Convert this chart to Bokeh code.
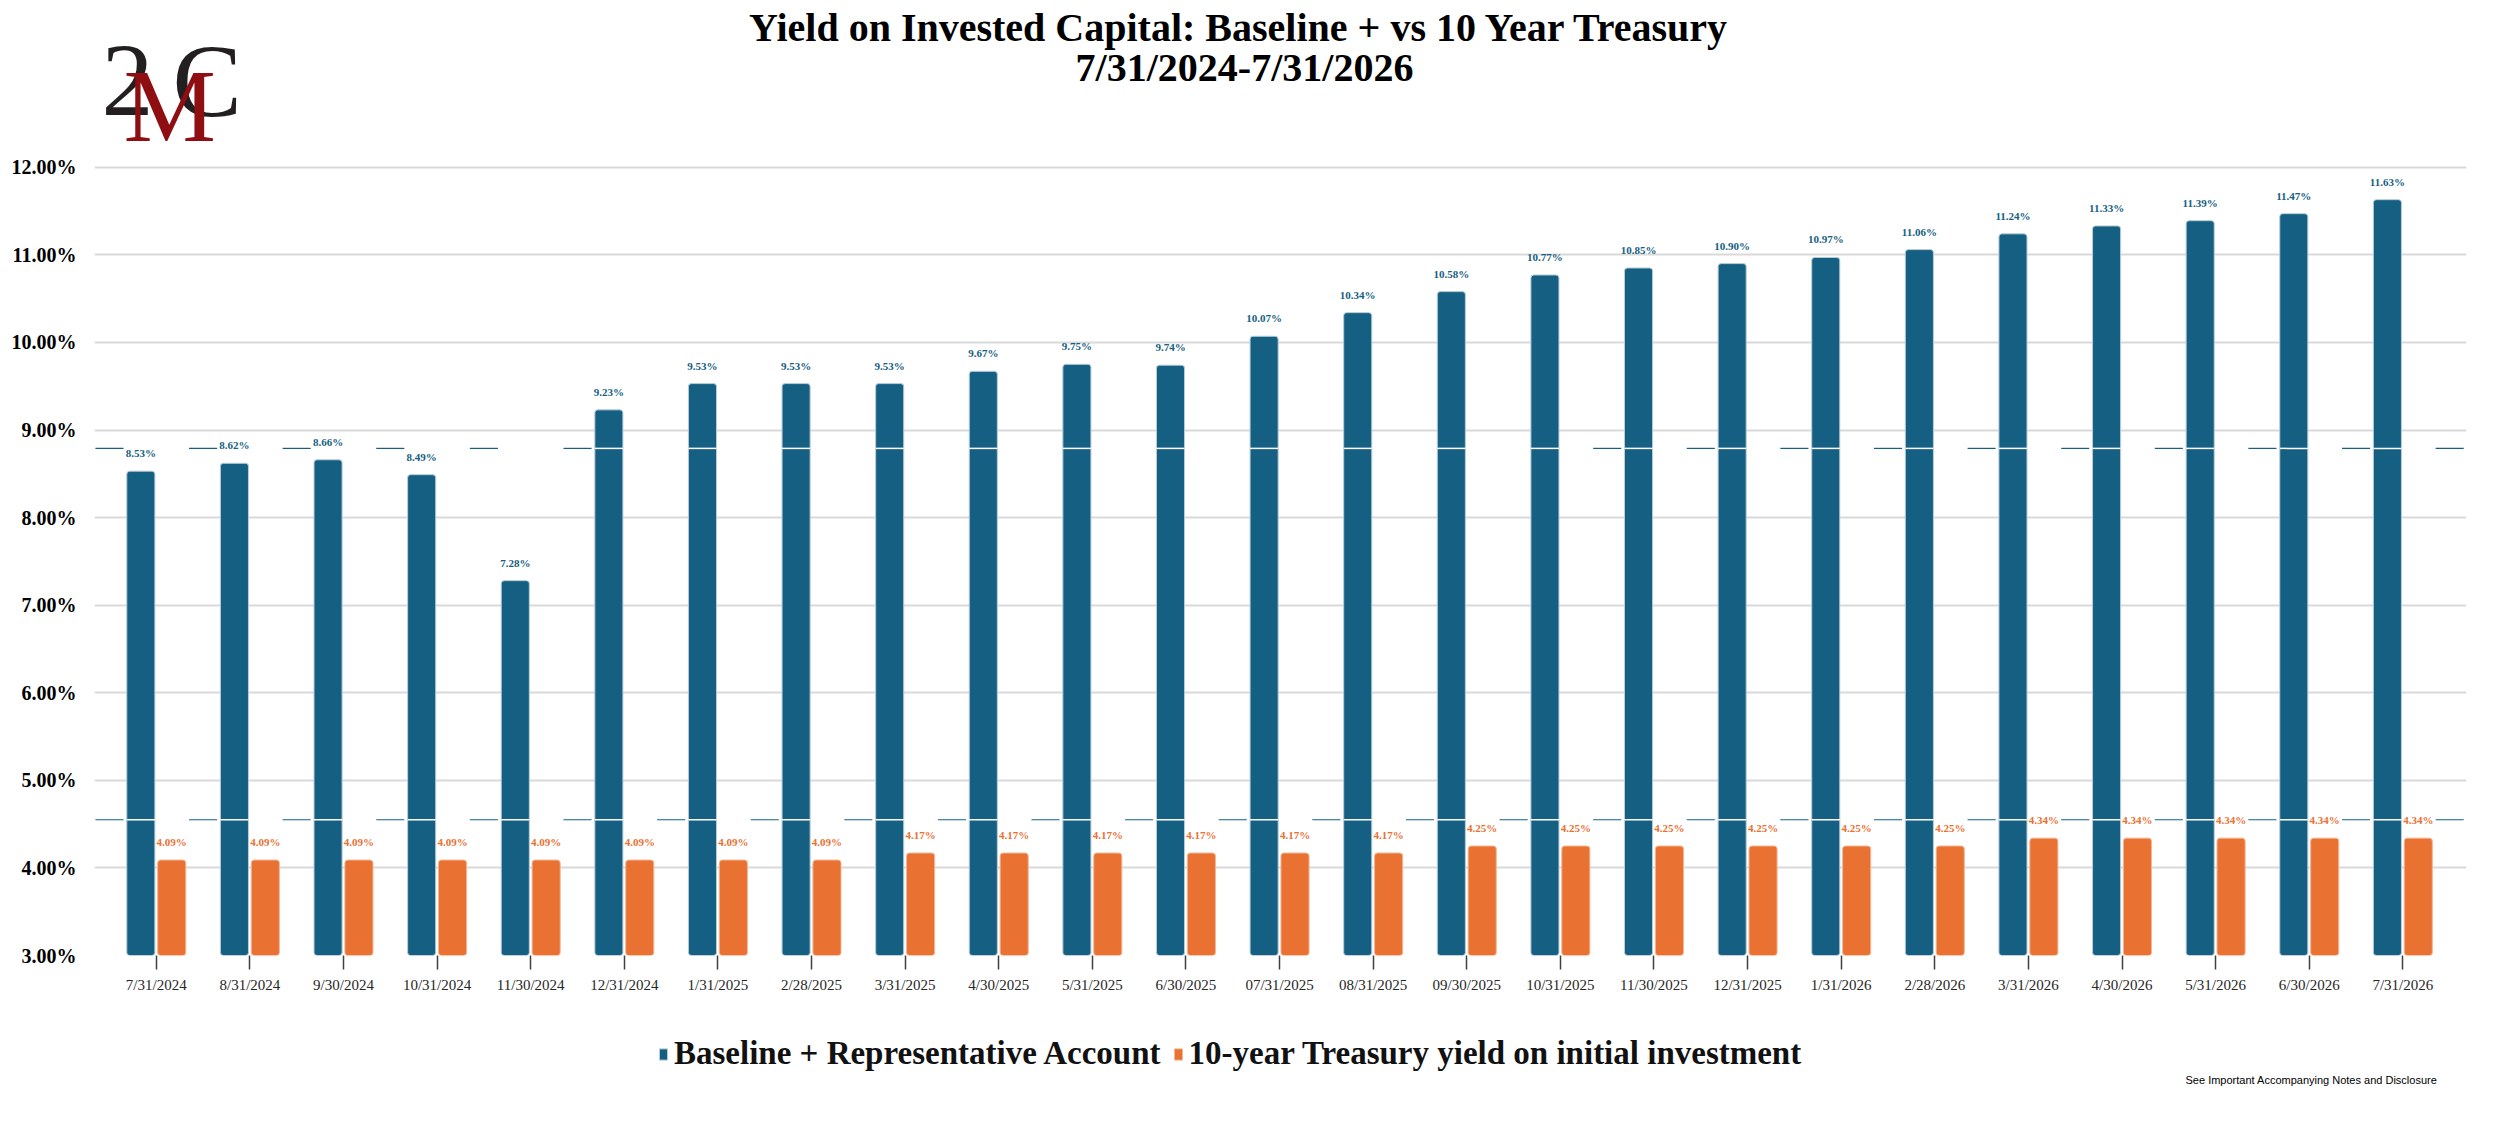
from bokeh.plotting import figure
from bokeh.layouts import column
from bokeh.models import (ColumnDataSource, FixedTicker, PrintfTickFormatter, LabelSet,
                          Legend, LegendItem, Label, Range1d)
from bokeh.transform import dodge
from bokeh.core.properties import value
from bokeh.embed import file_html
from bokeh.resources import INLINE

# data
dates = ["7/31/2024", "8/31/2024", "9/30/2024", "10/31/2024", "11/30/2024", "12/31/2024",
         "1/31/2025", "2/28/2025", "3/31/2025", "4/30/2025", "5/31/2025", "6/30/2025",
         "07/31/2025", "08/31/2025", "09/30/2025", "10/31/2025", "11/30/2025", "12/31/2025",
         "1/31/2026", "2/28/2026", "3/31/2026", "4/30/2026", "5/31/2026", "6/30/2026",
         "7/31/2026"]
baseline = [8.53, 8.62, 8.66, 8.49, 7.28, 9.23, 9.53, 9.53, 9.53, 9.67, 9.75, 9.74,
            10.07, 10.34, 10.58, 10.77, 10.85, 10.90, 10.97, 11.06, 11.24, 11.33, 11.39,
            11.47, 11.63]
treasury = [4.09, 4.09, 4.09, 4.09, 4.09, 4.09, 4.09, 4.09, 4.17, 4.17, 4.17, 4.17,
            4.17, 4.17, 4.25, 4.25, 4.25, 4.25, 4.25, 4.25, 4.34, 4.34, 4.34, 4.34, 4.34]
y_ticks = [3, 4, 5, 6, 7, 8, 9, 10, 11, 12]

# stray dash lines visible in the source image
upper_level = 8.79
lower_level = 4.55
upper_gaps = [-1, 0, 1, 2, 3, 4, 15, 16, 17, 18, 19, 20, 21, 22, 23, 24]
lower_gaps = list(range(-1, 25))

BLUE = "#156082"
ORANGE = "#E97132"
SERIF = "Liberation Serif"
FRAME_W = 2372


def strip(height):
    # plain figure used for header / footer, frame lined up with the chart frame
    f = figure(frame_width=FRAME_W, frame_height=height, x_range=Range1d(0, 1),
               y_range=Range1d(0, 1), output_backend="svg", toolbar_location=None,
               x_axis_location=None, y_axis_location=None, min_border_left=94,
               min_border_right=14, min_border_top=0, min_border_bottom=0,
               outline_line_color=None)
    f.grid.visible = False
    return f


header = strip(150)


def head_label(x, y, text, size, color, **kw):
    header.add_layout(Label(x=x, y=y, x_units="screen", y_units="screen", text=text,
                            text_font=SERIF, text_font_size=size, text_color=color, **kw))


head_label(7, 70, "2", "104px", "#231f20", text_baseline="alphabetic")
head_label(78, 70, "C", "104px", "#231f20", text_baseline="alphabetic")
head_label(29, 45, "M", "104px", "#8f0e12", text_baseline="alphabetic")
head_label(1150, 123, "Yield on Invested Capital:  Baseline + vs 10 Year Treasury", "40px",
           "black", text_align="center", text_baseline="middle", text_font_style="bold")
head_label(1150, 83, "7/31/2024-7/31/2026", "40px", "black", text_align="center",
           text_baseline="middle", text_font_style="bold")

idx = list(range(len(dates)))
src = ColumnDataSource(dict(
    idx=idx, date=dates, baseline=baseline, treasury=treasury,
    blabel=["%.2f%%" % v for v in baseline],
    tlabel=["%.2f%%" % v for v in treasury],
))

p = figure(frame_width=FRAME_W, frame_height=790, x_range=Range1d(-0.66, 24.68),
           y_range=Range1d(3, 12.02), output_backend="svg", toolbar_location=None,
           min_border_left=94, min_border_right=14, min_border_top=15,
           min_border_bottom=45)
p.outline_line_color = None

p.xgrid.visible = False
p.ygrid.grid_line_color = "#d9d9d9"
p.ygrid.grid_line_width = 2
p.ygrid.ticker = FixedTicker(ticks=y_ticks)

p.yaxis.ticker = FixedTicker(ticks=y_ticks)
p.yaxis.formatter = PrintfTickFormatter(format="%.2f%%")
p.yaxis.axis_line_color = None
p.yaxis.major_tick_line_color = None
p.yaxis.minor_tick_line_color = None
p.yaxis.major_label_text_font = SERIF
p.yaxis.major_label_text_font_style = "bold"
p.yaxis.major_label_text_font_size = "20px"
p.yaxis.major_label_text_color = "black"
p.yaxis.major_label_standoff = 12

p.xaxis.ticker = FixedTicker(ticks=idx)
p.xaxis.major_label_overrides = {i: d for i, d in zip(idx, dates)}
p.xaxis.axis_line_color = None
p.xaxis.major_tick_in = 0
p.xaxis.major_tick_out = 14
p.xaxis.major_tick_line_color = "#404040"
p.xaxis.major_tick_line_width = 1.5
p.xaxis.minor_tick_line_color = None
p.xaxis.major_label_text_font = SERIF
p.xaxis.major_label_text_font_size = "15px"
p.xaxis.major_label_text_color = "#262626"
p.xaxis.major_label_standoff = 7

bar_blue = dict(fill_color=BLUE, line_color="#b9ccd8", line_width=1, border_radius=3)
bar_orange = dict(fill_color=ORANGE, line_color="#f3b592", line_width=1, border_radius=3)

p.vbar(x=dodge("idx", -0.165), top="baseline", bottom=0, width=0.30, source=src, **bar_blue)
p.vbar(x=dodge("idx", 0.165), top="treasury", bottom=0, width=0.30, source=src, **bar_orange)

# stray lines: white across the taller blue bars, dark dashes in the gaps
white_x = [i for i in idx if baseline[i] > upper_level] + idx
white_y = [upper_level for i in idx if baseline[i] > upper_level] + [lower_level] * len(idx)
wsrc = ColumnDataSource(dict(g=white_x, lvl=white_y))
p.segment(x0=dodge("g", -0.315), x1=dodge("g", -0.015), y0="lvl", y1="lvl",
          source=wsrc, line_color="white", line_width=1.5)
dsrc = ColumnDataSource(dict(g=upper_gaps + lower_gaps,
                             lvl=[upper_level] * len(upper_gaps) + [lower_level] * len(lower_gaps)))
p.segment(x0=dodge("g", 0.35), x1=dodge("g", 0.65), y0="lvl", y1="lvl",
          source=dsrc, line_color=BLUE, line_width=1.2)

lab_b = LabelSet(x=dodge("idx", -0.165), y="baseline", text="blabel", source=src,
                 y_offset=12, text_align="center", text_baseline="bottom",
                 text_font=value(SERIF), text_font_style="bold", text_font_size="11px",
                 text_color=BLUE)
lab_t = LabelSet(x=dodge("idx", 0.165), y="treasury", text="tlabel", source=src,
                 y_offset=12, text_align="center", text_baseline="bottom",
                 text_font=value(SERIF), text_font_style="bold", text_font_size="11px",
                 text_color=ORANGE)
p.add_layout(lab_b)
p.add_layout(lab_t)

# footer strip: legend (hidden twins of the bar renderers) and the disclosure note
footer = strip(110)
f1 = footer.vbar(x=dodge("idx", -0.165), top="baseline", bottom=0, width=0.30,
                 source=src, visible=False, **bar_blue)
f2 = footer.vbar(x=dodge("idx", 0.165), top="treasury", bottom=0, width=0.30,
                 source=src, visible=False, **bar_orange)
legend = Legend(items=[LegendItem(label="Baseline + Representative Account", renderers=[f1]),
                       LegendItem(label="10-year Treasury yield on initial investment", renderers=[f2])],
                orientation="horizontal", location=(564, 38), border_line_color=None,
                background_fill_alpha=0, inactive_fill_alpha=0,
                label_text_font=SERIF, label_text_font_style="bold",
                label_text_font_size="33px", label_text_color="#111111",
                glyph_width=10, glyph_height=14, label_standoff=6, spacing=12,
                margin=0, padding=0)
footer.add_layout(legend)
footer.add_layout(Label(x=2091, y=31, x_units="screen", y_units="screen",
                        text="See Important Accompanying Notes and Disclosure",
                        text_baseline="alphabetic", text_font="Liberation Sans",
                        text_font_size="11px", text_color="black"))

page = column(header, p, footer)
open("out.html", "w").write(file_html(page, INLINE))
